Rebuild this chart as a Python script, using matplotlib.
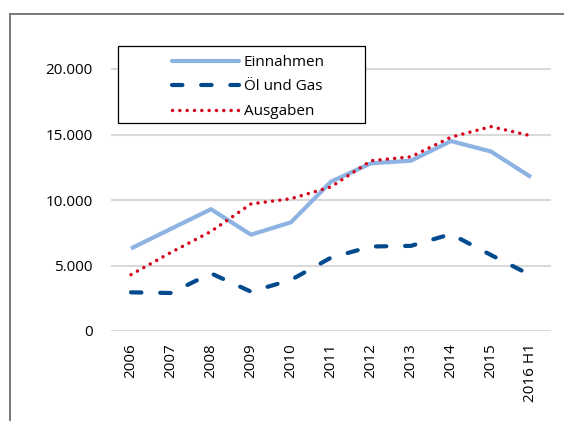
import matplotlib
matplotlib.use("Agg")
import matplotlib.pyplot as plt
from matplotlib.lines import Line2D
from matplotlib.patches import Rectangle
from matplotlib.ticker import FuncFormatter

categories = ["2006", "2007", "2008", "2009", "2010", "2011", "2012", "2013", "2014", "2015", "2016 H1"]
einnahmen = [6300, 7800, 9300, 7350, 8300, 11400, 12800, 13000, 14500, 13700, 11750]
oel_gas = [2950, 2900, 4400, 3000, 3900, 5600, 6450, 6500, 7400, 5800, 4250]
ausgaben = [4300, 6000, 7600, 9700, 10100, 11000, 13000, 13300, 14800, 15600, 14900]
yticks = [0, 5000, 10000, 15000, 20000]

plt.rcParams['font.family'] = ['Open Sans', 'DejaVu Sans']

W, H = 564, 421
fig = plt.figure(figsize=(W / 100, H / 100), dpi=100)

def fx(px):
    return px / W

def fy(py):
    return 1 - py / H

ymax = 23000
top_px = 331 - ymax * 262 / 20000
ax = fig.add_axes([fx(111), fy(331), fx(551) - fx(111), fy(top_px) - fy(331)])

x = list(range(len(categories)))
c_ein = "#8DB3E2"
c_oel = "#004A8D"
c_aus = "#D7001B"

ax.plot(x, einnahmen, color=c_ein, lw=3, solid_capstyle="butt", solid_joinstyle="round", zorder=3)
ax.plot(x, oel_gas, color=c_oel, lw=3, linestyle=(0, (2.5, 4.5)), dash_capstyle="round", zorder=3)
ax.plot(x, ausgaben, color=c_aus, lw=2.5, linestyle=(0, (0.01, 2.1)), dash_capstyle="round", zorder=4)

ax.set_xlim(-0.5, len(categories) - 0.5)
ax.set_ylim(0, ymax)
ax.set_yticks(yticks)
ax.yaxis.set_major_formatter(FuncFormatter(lambda v, p: f"{int(v):,}".replace(",", ".")))
ax.set_xticks(x)
ax.set_xticklabels(categories, rotation=90, va="top", ha="center")
ax.tick_params(axis="both", length=0, labelsize=11, colors="black")
ax.tick_params(axis="y", pad=13)
ax.tick_params(axis="x", pad=9)
ax.grid(axis="y", color="#D9D9D9", lw=1.5, zorder=1)
for s in ax.spines.values():
    s.set_visible(False)
ax.set_facecolor("none")

# outer frame (top and left)
fig.add_artist(Line2D([fx(10), fx(10)], [0, fy(14)], color="#6E6E6E", lw=1.3))
fig.add_artist(Line2D([fx(10), 1.0], [fy(14), fy(14)], color="#6E6E6E", lw=1.3))

# legend box
fig.add_artist(Rectangle((fx(118), fy(123)), fx(365) - fx(118), fy(46) - fy(123),
                         fill=True, facecolor="white", edgecolor="black", lw=0.9, zorder=5))
handles = [
    Line2D([], [], color=c_ein, lw=3, solid_capstyle="round"),
    Line2D([], [], color=c_oel, lw=3, linestyle=(0, (2.5, 4.5)), dash_capstyle="round"),
    Line2D([], [], color=c_aus, lw=2.5, linestyle=(0, (0.01, 2.1)), dash_capstyle="round"),
]
leg = fig.legend(handles, ["Einnahmen", "Öl und Gas", "Ausgaben"],
                 loc="upper left", bbox_to_anchor=(fx(162), fy(45)),
                 frameon=False, fontsize=11, handlelength=4.4, handletextpad=0.3,
                 labelspacing=0.62, borderpad=0.15)
leg.set_zorder(6)

fig.savefig("out.png", dpi=100)
